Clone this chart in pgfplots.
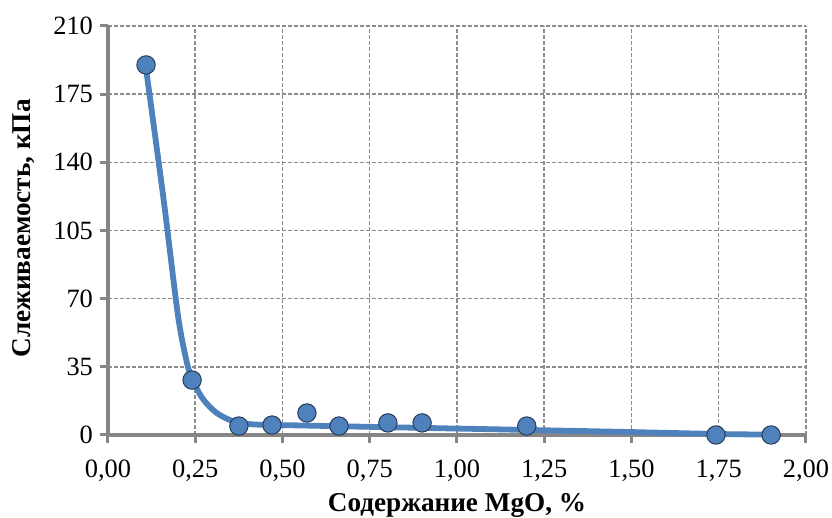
\documentclass[border=0pt]{standalone}
\usepackage{pgfplots}
\pgfplotsset{compat=1.18}
\usepackage{fontspec}
\setmainfont{Liberation Serif}

\definecolor{exblue}{RGB}{79,129,189}
\definecolor{exedge}{RGB}{40,60,90}
\definecolor{axgray}{RGB}{134,134,134}

% measured data points
\pgfplotstableread{
x     y
0.109 190
0.241 28.2
0.375 4.6
0.470 5.1
0.570 11.3
0.662 4.6
0.802 6.2
0.900 6.2
1.200 4.6
1.742 0.0
1.900 0.0
}\pointsdata

% smoothed line
\pgfplotstableread{
x     y
0.109 188
0.160 120
0.200 62
0.225 38
0.241 29
0.270 19
0.310 11.5
0.360 7.0
0.420 5.4
0.550 4.9
0.800 4.0
1.000 3.3
1.200 2.6
1.500 1.5
1.750 0.5
1.900 0.2
}\linedata

\begin{document}
\begin{tikzpicture}
  \path[use as bounding box] (-54pt,-41.5pt) rectangle (362pt,217.5pt);
  \begin{axis}[
      scale only axis,
      width=349pt, height=204.5pt,
      xmin=0, xmax=2, ymin=0, ymax=210,
      xtick={0,0.25,...,2.01},
      ytick={0,35,...,210},
      axis x line*=bottom,
      axis y line*=left,
      axis line style={draw=axgray, line width=2pt, -},
      tick style={draw=axgray, line width=1.5pt},
      tick align=outside,
      major tick length=4pt,
      grid=major,
      major grid style={draw=gray!90, line width=0.75pt, dash pattern=on 2pt off 1pt},
      /pgf/number format/assume math mode=true,
      xticklabel style={yshift=-5pt, /pgf/number format/.cd, fixed, fixed zerofill, precision=2, use comma},
      yticklabel style={/pgf/number format/.cd, fixed, precision=0},
      tick label style={font=\fontsize{13.2}{15}\selectfont},
      xlabel={\textbf{Содержание MgO, \%}},
      ylabel={\textbf{Слеживаемость, кПа}},
      label style={font=\fontsize{13.6}{15}\selectfont},
      xlabel style={at={(axis description cs:0.5,-0.187)}, anchor=base},
      ylabel style={at={(axis description cs:-0.121,0.505)}, anchor=center},
      clip=false,
    ]
    \addplot[exblue, line width=2.9pt, smooth, tension=0.5, no marks] table {\linedata};
    \addplot[only marks, mark=*, mark size=4.6pt,
             mark options={fill=exblue, draw=exedge, line width=0.5pt}] table {\pointsdata};
  \end{axis}
\end{tikzpicture}
\end{document}
